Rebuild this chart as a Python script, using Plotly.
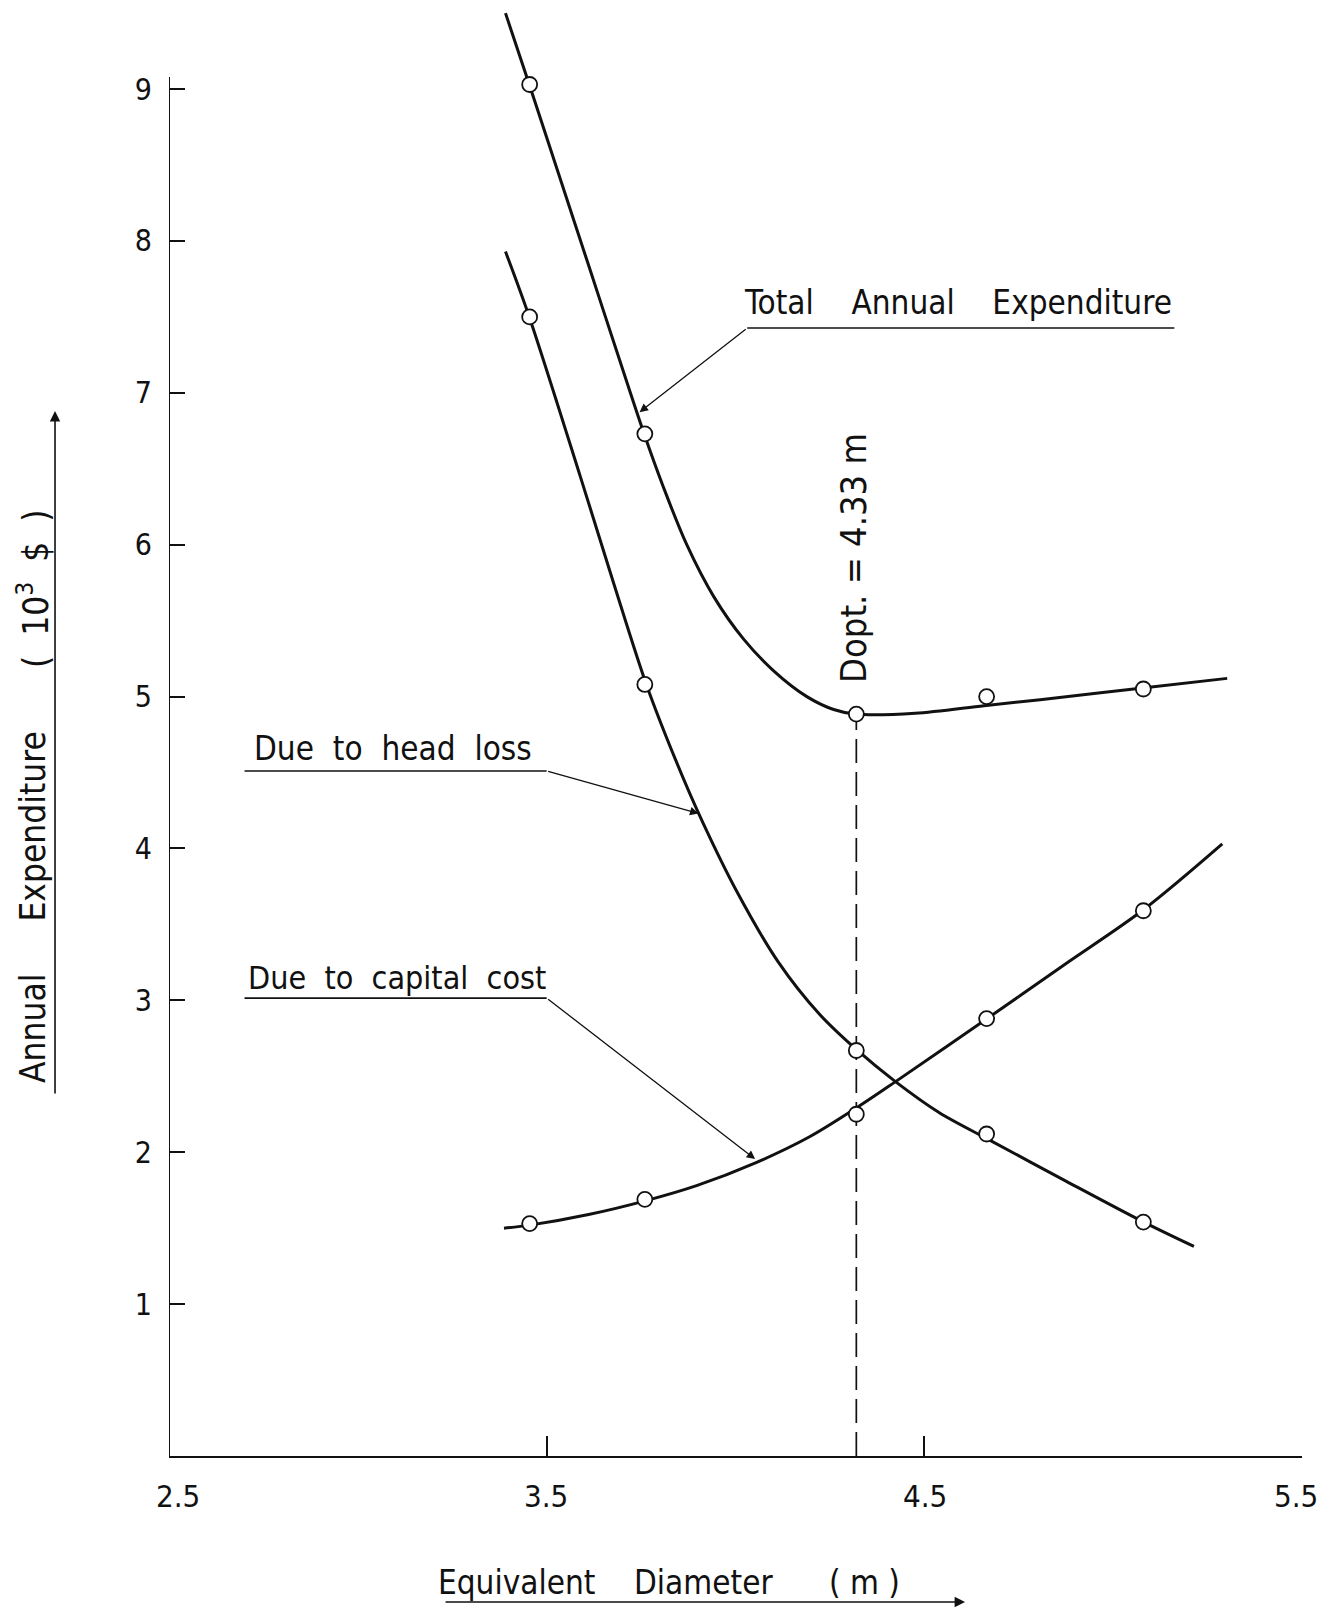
import plotly.graph_objects as go

# ---------------- data ----------------
# measured points (open circles)
D_PTS = [3.455, 3.76, 4.32, 4.665, 5.08]
TOTAL_PTS = [9.03, 6.73, 4.885, 5.00, 5.05]
HEAD_PTS = [7.50, 5.08, 2.67, 2.12, 1.54]
CAPITAL_PTS = [1.53, 1.69, 2.25, 2.88, 3.59]

# hand-drawn smooth curves
TOTAL_CURVE_X = [3.391, 3.454, 3.545, 3.615, 3.686, 3.758, 3.809, 3.871, 3.942,
                 4.021, 4.101, 4.189, 4.260, 4.317, 4.476, 4.658, 4.807, 5.072, 5.302]
TOTAL_CURVE_Y = [9.50, 9.03, 8.34, 7.81, 7.27, 6.73, 6.38, 6.00, 5.66,
                 5.38, 5.17, 5.00, 4.915, 4.885, 4.89, 4.94, 4.98, 5.055, 5.12]

HEAD_CURVE_X = [3.391, 3.454, 3.589, 3.677, 3.764, 3.842, 3.910, 4.005, 4.114,
                4.222, 4.323, 4.421, 4.540, 4.673, 4.875, 5.081, 5.214]
HEAD_CURVE_Y = [7.93, 7.50, 6.45, 5.75, 5.08, 4.58, 4.19, 3.71, 3.25,
                2.91, 2.67, 2.47, 2.26, 2.08, 1.81, 1.54, 1.38]

CAP_CURVE_X = [3.387, 3.455, 3.611, 3.761, 3.897, 4.053, 4.195, 4.319, 4.421,
               4.678, 4.868, 5.082, 5.289]
CAP_CURVE_Y = [1.50, 1.52, 1.59, 1.68, 1.78, 1.93, 2.10, 2.29, 2.46,
               2.90, 3.23, 3.60, 4.03]

D_OPT = 4.32          # position of the dashed optimum line as drawn
D_OPT_LABEL = "Dopt. = 4.33 m"
TOTAL_MIN = 4.885

X_RANGE = [2.5, 5.5001]
Y_RANGE = [0, 9.547]
Y_AXIS_TOP = 9.08     # drawn length of the vertical axis
X_TICKS = [2.5, 3.5, 4.5, 5.5]
X_TICK_TEXT = ["2.5", "3.5", "4.5", "5.5"]
Y_TICKS = [1, 2, 3, 4, 5, 6, 7, 8, 9]

# styling only: small horizontal nudges of the hand-lettered x tick labels (px)
X_LABEL_NUDGE = [9, -1, 1, -6]

FONT = "DejaVu Sans Condensed, Liberation Sans Narrow, DejaVu Sans, sans-serif"
INK = "#111111"
NB = "\u00a0"

fig = go.Figure()

for cx, cy in [(TOTAL_CURVE_X, TOTAL_CURVE_Y),
               (HEAD_CURVE_X, HEAD_CURVE_Y),
               (CAP_CURVE_X, CAP_CURVE_Y)]:
    fig.add_trace(go.Scatter(x=cx, y=cy, mode="lines",
                             line=dict(color=INK, width=3, shape="spline", smoothing=0.9),
                             hoverinfo="skip", showlegend=False))

# dashed optimum line
fig.add_trace(go.Scatter(x=[D_OPT, D_OPT], y=[0, TOTAL_MIN], mode="lines",
                         line=dict(color=INK, width=1.7, dash="24px,9px"),
                         showlegend=False, hoverinfo="skip"))

for ys in [TOTAL_PTS, HEAD_PTS, CAPITAL_PTS]:
    fig.add_trace(go.Scatter(x=D_PTS, y=ys, mode="markers",
                             marker=dict(symbol="circle", size=15, color="white",
                                         line=dict(color=INK, width=1.8)),
                             showlegend=False, cliponaxis=False))

# ---------------- labels with leaders ----------------
labels = [
    dict(text=f"Total{NB*4}Annual{NB*4}Expenditure", x=4.59, y=7.598, size=33,
         ux0=4.031, ux1=5.162, uy=7.427, tip=(3.746, 6.873)),
    dict(text=f"Due{NB*2}to{NB*2}head{NB*2}loss", x=3.093, y=4.661, size=33,
         ux0=2.70, ux1=3.50, uy=4.51, tip=(3.902, 4.231)),
    dict(text=f"Due{NB*2}to{NB*2}capital{NB*2}cost", x=3.104, y=3.147, size=32,
         ux0=2.70, ux1=3.50, uy=3.015, tip=(4.052, 1.955)),
]
annotations = []
shapes = []
for lb in labels:
    annotations.append(dict(text=lb["text"], x=lb["x"], y=lb["y"], xref="x", yref="y",
                            xanchor="center", yanchor="middle", showarrow=False,
                            font=dict(family=FONT, size=lb["size"], color=INK)))
    shapes.append(dict(type="line", xref="x", yref="y", x0=lb["ux0"], x1=lb["ux1"],
                       y0=lb["uy"], y1=lb["uy"], line=dict(color=INK, width=1.6)))
    tail_x = lb["ux0"] if lb["tip"][0] < lb["ux0"] else lb["ux1"]
    annotations.append(dict(text="", x=lb["tip"][0], y=lb["tip"][1], xref="x", yref="y",
                            ax=tail_x, ay=lb["uy"], axref="x", ayref="y",
                            showarrow=True, arrowhead=2, arrowsize=1.3, arrowwidth=1.3,
                            arrowcolor=INK, standoff=0))

# vertical axis line (drawn only up to its tick range, the curve runs above it)
shapes.append(dict(type="line", xref="x", yref="y", x0=X_RANGE[0], x1=X_RANGE[0],
                   y0=0, y1=Y_AXIS_TOP, line=dict(color=INK, width=2)))

annotations.append(dict(text=D_OPT_LABEL, x=4.312, y=5.915, xref="x", yref="y",
                        xanchor="center", yanchor="middle",
                        textangle=-90, showarrow=False,
                        font=dict(family=FONT, size=36, color=INK)))

# x tick labels, placed at the tick values
for tv, tt, nudge in zip(X_TICKS, X_TICK_TEXT, X_LABEL_NUDGE):
    annotations.append(dict(text=tt, x=tv, y=0, xref="x", yref="paper",
                            xanchor="center", yanchor="middle", xshift=nudge, yshift=-40,
                            showarrow=False, font=dict(family=FONT, size=31, color=INK)))

# x-axis title (word by word, paper coordinates) with arrow underline
for word, px in [("Equivalent", 0.307), ("Diameter", 0.472), (f"({NB}m{NB})", 0.614)]:
    annotations.append(dict(text=word, x=px, y=-0.0869, xref="paper", yref="paper",
                            xanchor="center", yanchor="middle", showarrow=False,
                            font=dict(family=FONT, size=33, color=INK)))
annotations.append(dict(text="", x=0.7026, y=-0.1007, xref="paper", yref="paper",
                        ax=-521, ay=0, showarrow=True, arrowhead=2, arrowsize=1.3,
                        arrowwidth=1.6, arrowcolor=INK, standoff=0))

# y-axis title (word by word, rotated) with arrow
for word, py in [("Annual", 0.2945), ("Expenditure", 0.4341),
                 (f"({NB*2}10<sup>3</sup>{NB*2}${NB*2})", 0.5979)]:
    annotations.append(dict(text=word, x=-0.1200, y=py, xref="paper", yref="paper",
                            xanchor="center", yanchor="middle", showarrow=False,
                            textangle=-90,
                            font=dict(family=FONT, size=35, color=INK)))
annotations.append(dict(text="", x=-0.1006, y=0.7207, xref="paper", yref="paper",
                        ax=0, ay=684, showarrow=True, arrowhead=2, arrowsize=1.3,
                        arrowwidth=1.6, arrowcolor=INK, standoff=0))

fig.update_layout(
    template="none",
    width=1321, height=1611,
    margin=dict(l=169, r=19, t=6, b=155),
    paper_bgcolor="white", plot_bgcolor="white",
    annotations=annotations, shapes=shapes,
    font=dict(family=FONT, color=INK),
    showlegend=False,
)
fig.update_xaxes(range=X_RANGE, tickvals=X_TICKS, showticklabels=False,
                 ticks="inside", ticklen=20, tickwidth=1.6, tickcolor=INK,
                 showline=True, linewidth=2, linecolor=INK, showgrid=False,
                 zeroline=False, automargin=False)
fig.update_yaxes(range=Y_RANGE, tickvals=Y_TICKS,
                 ticks="inside", ticklen=16, tickwidth=1.6, tickcolor=INK,
                 showline=False, showgrid=False, automargin=False,
                 zeroline=False, ticklabelstandoff=16,
                 tickfont=dict(family=FONT, size=30, color=INK))

fig.write_html("out.html")
